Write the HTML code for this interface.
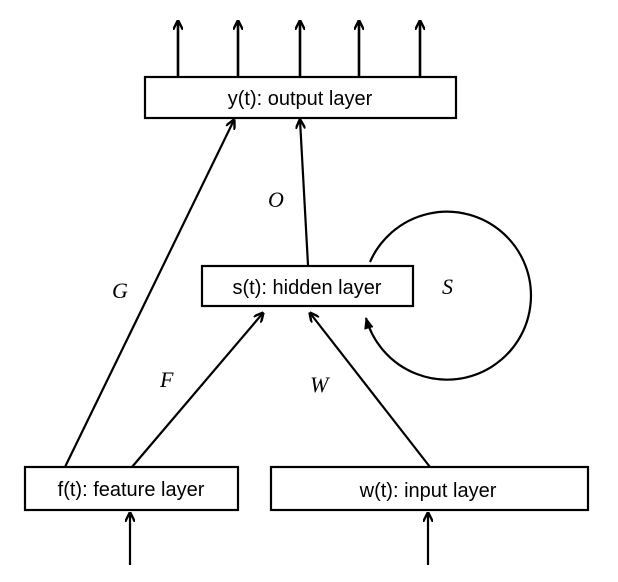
<!DOCTYPE html>
<html><head><meta charset="utf-8"><style>
html,body{margin:0;padding:0;background:#fff;width:618px;height:582px;overflow:hidden}
svg text{font-family:"Liberation Sans",sans-serif}
.lab{font-family:"Liberation Serif",serif;font-style:italic;font-size:22px}
</style></head><body>
<svg width="618" height="582" viewBox="0 0 618 582">
<defs><marker id="ah" viewBox="0 0 10 10" refX="9" refY="5" markerWidth="10" markerHeight="10" orient="auto" markerUnits="userSpaceOnUse"><path d="M0,0 L10,5 L0,10" fill="none" stroke="#000" stroke-width="2.4"/></marker>
<marker id="af" viewBox="0 0 10 10" refX="9" refY="5" markerWidth="12" markerHeight="12" orient="auto" markerUnits="userSpaceOnUse"><path d="M0,1 L10,5 L0,9 Z" fill="#000"/></marker></defs>
<g stroke="#000" stroke-width="2.6" fill="none">
<line x1="178" y1="77" x2="178" y2="21" marker-end="url(#ah)"/>
<line x1="238" y1="77" x2="238" y2="21" marker-end="url(#ah)"/>
<line x1="300" y1="77" x2="300" y2="21" marker-end="url(#ah)"/>
<line x1="359" y1="77" x2="359" y2="21" marker-end="url(#ah)"/>
<line x1="420" y1="77" x2="420" y2="21" marker-end="url(#ah)"/>
</g>
<g stroke="#000" stroke-width="2.2" fill="none">
<line x1="65" y1="467" x2="234" y2="120" marker-end="url(#ah)"/>
<line x1="132" y1="467" x2="263" y2="313" marker-end="url(#ah)"/>
<line x1="430" y1="467" x2="310" y2="313" marker-end="url(#ah)"/>
<line x1="308" y1="265" x2="300" y2="120" marker-end="url(#ah)"/>
<line x1="130" y1="565" x2="130" y2="513" marker-end="url(#ah)"/>
<line x1="428" y1="565" x2="428" y2="513" marker-end="url(#ah)"/>
<path d="M370,262 A84,84 0 1 1 366,318" marker-end="url(#af)"/>
</g>
<g stroke="#000" stroke-width="2.2" fill="#fff">
<rect x="145" y="77" width="311" height="41"/>
<rect x="202" y="266" width="211" height="40"/>
<rect x="25" y="467" width="213" height="43"/>
<rect x="271" y="467" width="317" height="43"/>
</g>
<text x="300" y="105" font-size="20" text-anchor="middle">y(t): output layer</text>
<text x="307" y="294" font-size="20" text-anchor="middle">s(t): hidden layer</text>
<text x="131" y="496" font-size="20" text-anchor="middle">f(t): feature layer</text>
<text x="428" y="497" font-size="20" text-anchor="middle">w(t): input layer</text>
<text class="lab" x="112" y="298">G</text>
<text class="lab" x="160" y="387">F</text>
<text class="lab" x="310" y="392">W</text>
<text class="lab" x="268" y="207">O</text>
<text class="lab" x="442" y="294">S</text>
</svg>
</body></html>
